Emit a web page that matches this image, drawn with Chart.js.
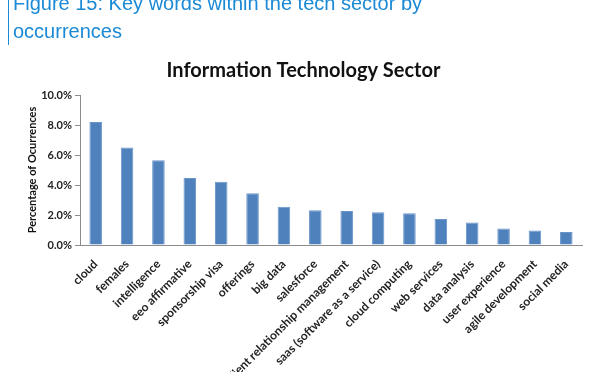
<!DOCTYPE html>
<html>
<head>
<meta charset="utf-8">
<script src="https://cdn.jsdelivr.net/npm/chart.js@4.4.0/dist/chart.umd.min.js"></script>
<style>
    html, body { margin: 0; padding: 0; background: #fff; }
    #wrap { position: relative; width: 600px; height: 372px; overflow: hidden; }
    #heading {
        position: absolute; left: 8px; top: -11px; padding-left: 4px;
        border-left: 1.5px solid #1b8ad6; color: #1b8ad6;
        font-family: 'Liberation Sans', Arial, sans-serif; font-size: 20px; line-height: 28px;
    }
    canvas { position: absolute; left: 0; top: 0; }
</style>
</head>
<body>
<div id="wrap">
    <canvas id="chart" width="600" height="372"></canvas>
    <div id="heading">Figure 15: Key words within the tech sector by<br>occurrences</div>
</div>
<script>
const categories = ['cloud', 'females', 'intelligence', 'eeo affirmative', 'sponsorship visa', 'offerings',
    'big data', 'salesforce', 'client relationship management', 'saas (software as a service)',
    'cloud computing', 'web services', 'data analysis', 'user experience', 'agile development', 'social media'];
const shares = [8.2, 6.5, 5.65, 4.47, 4.22, 3.45, 2.55, 2.32, 2.26, 2.18, 2.11, 1.74, 1.5, 1.1, 0.96, 0.86];
const yTicks = [0, 2, 4, 6, 8, 10];

const tickFont = { family: 'Lato, sans-serif', weight: 'bold', size: 11 };
const labelFont = { family: 'Lato, sans-serif', weight: 'bold', size: 12 };

new Chart(document.getElementById('chart').getContext('2d'), {
    type: 'bar',
    data: {
        labels: categories,
        datasets: [{ data: shares, backgroundColor: '#4f81bd', borderColor: '#6a95c9', borderWidth: 1,
            barPercentage: 0.4, categoryPercentage: 1 }]
    },
    options: {
        responsive: false,
        animation: false,
        layout: { padding: { top: 53, left: 25, right: 18, bottom: 0 } },
        scales: {
            x: {
                grid: { display: false },
                border: { color: '#8c8c8c' },
                ticks: { color: '#222', font: labelFont, minRotation: 45, maxRotation: 45, autoSkip: false, padding: 4 },
                afterFit: s => { s.height = 127; }
            },
            y: {
                min: 0, max: 10,
                afterBuildTicks: s => { s.ticks = yTicks.map(v => ({ value: v })); },
                grid: { drawOnChartArea: false, tickLength: 5, color: '#8c8c8c' },
                border: { color: '#8c8c8c' },
                ticks: { color: '#222', font: tickFont, padding: 3, callback: v => v.toFixed(1) + '%' },
                title: { display: true, text: 'Percentage of Ocurrences', color: '#111', font: tickFont, padding: 1 },
                afterFit: s => { s.width = 55; }
            }
        },
        plugins: {
            legend: { display: false },
            tooltip: { enabled: false },
            title: {
                display: true, text: 'Information Technology Sector', color: '#111',
                font: { family: 'Lato, sans-serif', weight: 'bold', size: 20 },
                padding: { top: 6, bottom: 12 }
            }
        }
    }
});
</script>
</body>
</html>
